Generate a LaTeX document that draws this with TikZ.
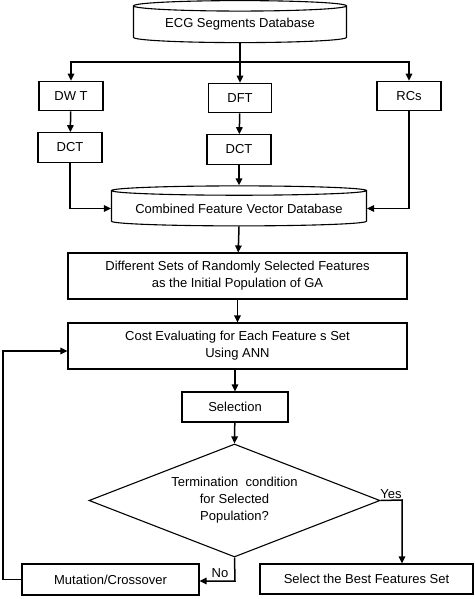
\documentclass[tikz,border=0pt]{standalone}
\usepackage{fontspec}
\setmainfont{Liberation Sans}
\usetikzlibrary{shapes.geometric,arrows.meta}
\tikzset{
    box/.style={draw, line width=1.1pt, inner sep=0pt, align=center},
    dbase/.style={draw, line width=1.1pt, cylinder, shape border rotate=90, aspect=0.045, inner sep=0pt},
    link/.style={line width=1.5pt},
    arr/.style={link, -{Triangle[length=7pt,width=6.5pt]}}
}
\begin{document}
\begin{tikzpicture}[x=1pt,y=-1pt,font=\fontsize{13}{17}\selectfont]
\useasboundingbox (0,0) rectangle (474,599);
\node[dbase, aspect=0.07, minimum width=213pt, minimum height=42pt] (ecg) at (240,24.5) {ECG Segments Database};
\foreach \n/\x/\y/\w/\t in {dwt/71/96/64/DW T, dft/240/98/63/DFT, rcs/409/96/64/RCs, dct1/70/147.5/64/DCT, dct2/239/149.5/64/DCT}
{
    \node[box, minimum width=\w pt, minimum height=29.5pt] (\n) at (\x,\y) {\t};
}
\node[dbase, minimum width=255pt, minimum height=40pt] (comb) at (239,208.5) {Combined Feature Vector Database};
\node[box, minimum width=339pt, minimum height=46pt] (pop) at (237.5,276) {Different Sets of Randomly Selected Features\\as the Initial Population of GA};
\node[box, minimum width=339pt, minimum height=46pt] (cost) at (237.5,346) {Cost Evaluating for Each Feature s Set\\Using ANN};
\node[box, minimum width=106pt, minimum height=30pt] (sel) at (235,407) {Selection};
\node[box, diamond, aspect=2.6, minimum width=291pt, minimum height=113pt] (term) at (234.5,500.5) {Termination\ \ condition\\for Selected\\Population?};
\node[box, minimum width=213pt, minimum height=30pt] (best) at (366.5,579) {Select the Best Features Set};
\node[box, minimum width=177pt, minimum height=31pt] (mut) at (110.5,579.5) {Mutation/Crossover};
\node (yeslbl) at (391,494) {Yes};
\node (nolbl) at (220,573) {No};
\coordinate (split) at (240,62);
\coordinate (yes) at (402,500);
\coordinate (no) at (235,581);
\coordinate (loop) at (3,351);

\draw[link] (ecg.south) -- (split);
\draw[arr] (split) -| (dwt.north);
\draw[arr] (split) -- (dft.north);
\draw[arr] (split) -| (rcs.north);
\draw[arr] (dwt) -- (dct1);
\draw[arr] (dft) -- (dct2);
\draw[arr] (dct1.south) |- (comb.west);
\draw[arr] (rcs.south) |- (comb.east);
\draw[arr] (dct2) -- (comb.north);
\draw[arr] (comb.south) -- (pop);
\draw[arr] (pop) -- (cost);
\draw[arr] (cost.south -| sel) -- (sel);
\draw[arr] (sel) -- (term.north);
\draw[arr] (term.east) -- (yes) -- (yes |- best.north);
\draw[arr] (term.south) -- (no) -- (no -| mut.east);
\draw[arr] (mut.west) -| (loop) -- (loop -| cost.west);
\end{tikzpicture}
\end{document}
